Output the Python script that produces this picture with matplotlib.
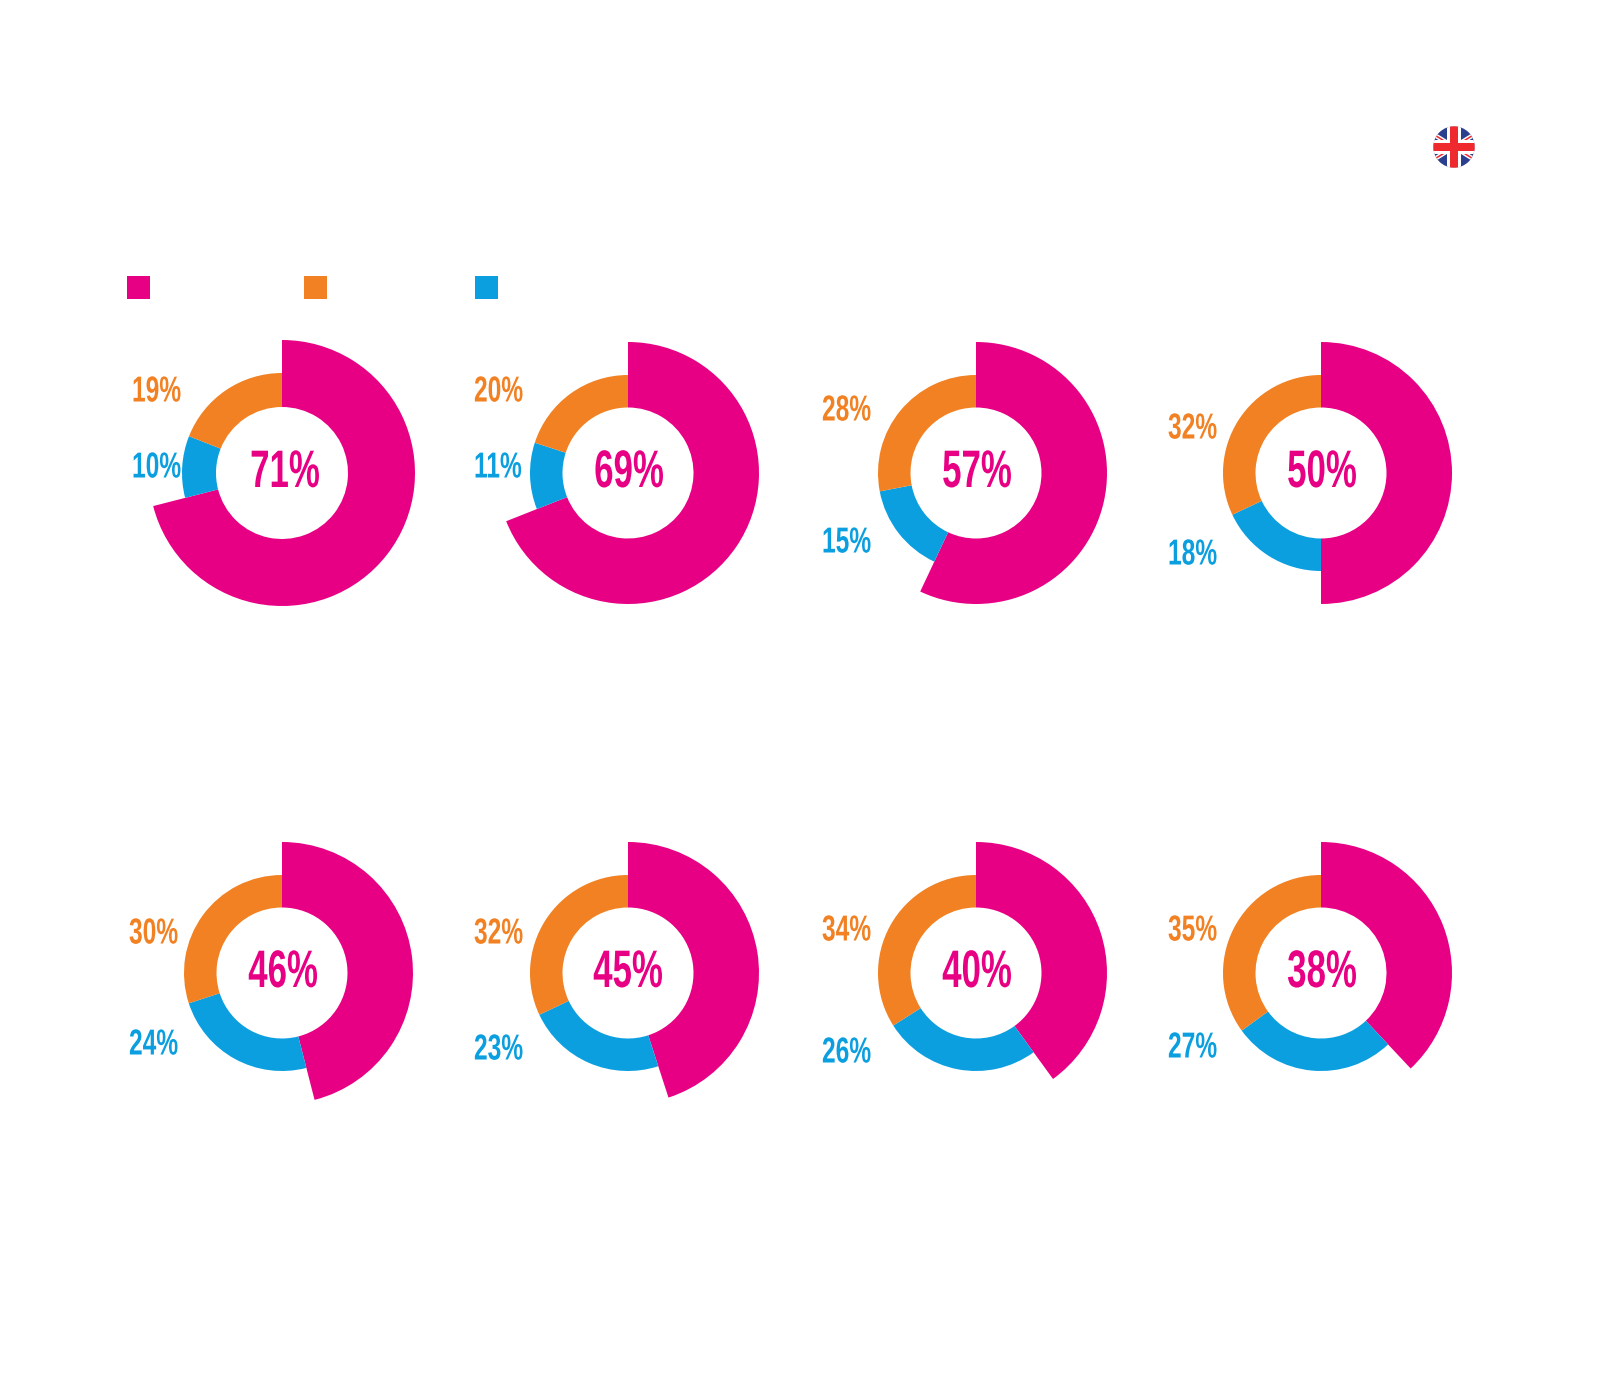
import matplotlib
matplotlib.use('Agg')
import matplotlib.pyplot as plt
from matplotlib.patches import Circle, Rectangle
from matplotlib.patheffects import AbstractPathEffect
from matplotlib.transforms import Affine2D

PINK = '#E80084'
ORANGE = '#F18122'
BLUE = '#0B9FE0'
FLAG_RED = '#EE2A2E'
FLAG_BLUE = '#2B3F8F'

# values per donut, left to right, top row first
main_pct = [71, 69, 57, 50, 46, 45, 40, 38]
orange_pct = [19, 20, 28, 32, 30, 32, 34, 35]
blue_pct = [10, 11, 15, 18, 24, 23, 26, 27]

# layout in reference pixels
W, H = 1600, 1387
centers = [(282, 473), (628, 473), (976, 473), (1321, 473),
           (282, 973), (628, 973), (976, 973), (1321, 973)]
outer_r = [133, 131, 131, 131, 131, 131, 131, 131]
mid_r = [100, 98, 98, 98, 98, 98, 98, 98]
hole_r = [66, 65.5, 65.5, 65.5, 65.5, 65.5, 65.5, 65.5]
orange_xy = [(132, 392), (474, 392), (822, 411), (1168, 429),
             (129, 934), (474, 934), (822, 931), (1168, 931)]
blue_xy = [(132, 468), (474, 468), (822, 543), (1168, 555),
           (129, 1045), (474, 1050), (822, 1053), (1168, 1048)]
main_xy = [(285, 473), (629, 473), (977, 473), (1322, 473),
           (283, 973), (628, 973), (977, 973), (1322, 973)]
legend_x = [127, 304, 475]
legend_colors = [PINK, ORANGE, BLUE]


class Squeeze(AbstractPathEffect):
    # no condensed font here, so narrow the glyphs around the text anchor
    def __init__(self, sx, x0):
        super().__init__()
        self.sx = sx
        self.x0 = x0

    def draw_path(self, renderer, gc, tpath, affine, rgbFace=None):
        squeeze = Affine2D().translate(-self.x0, 0).scale(self.sx, 1).translate(self.x0, 0)
        renderer.draw_path(gc, tpath, affine + squeeze, rgbFace)


def label(ax, xy, s, color, size, sx, ha):
    t = ax.text(xy[0], xy[1], s, color=color, family='Liberation Sans', fontweight='bold',
                fontsize=size, ha=ha, va='center', zorder=5)
    t.set_path_effects([Squeeze(sx, xy[0])])


fig = plt.figure(figsize=(W / 100, H / 100), dpi=100)
bg = fig.add_axes([0, 0, 1, 1])
bg.set_xlim(0, W)
bg.set_ylim(H, 0)
bg.axis('off')

for x, c in zip(legend_x, legend_colors):
    bg.add_patch(Rectangle((x, 276), 23, 23, fc=c, lw=0))

# flag
fx, fy, fr = 1454, 147, 20.7
clip = Circle((fx, fy), fr, transform=bg.transData)
bg.add_patch(Circle((fx, fy), fr, fc=FLAG_BLUE, lw=0))
for sign in (-1, 1):
    xs = [fx - fr, fx + fr]
    ys = [fy - sign * fr * 0.62, fy + sign * fr * 0.62]
    for col, lw in (('white', 3.2), (FLAG_RED, 1.1)):
        line, = bg.plot(xs, ys, color=col, lw=lw, solid_capstyle='butt')
        line.set_clip_path(clip)
for half, col in ((6.8, 'white'), (4.4, FLAG_RED)):
    for rect in (Rectangle((fx - half, fy - fr), 2 * half, 2 * fr, fc=col, lw=0, zorder=3),
                 Rectangle((fx - fr, fy - half), 2 * fr, 2 * half, fc=col, lw=0, zorder=3)):
        bg.add_patch(rect)
        rect.set_clip_path(clip)

for i in range(len(main_pct)):
    cx, cy = centers[i]
    R = outer_r[i]
    side = 2.2 * R
    ax = fig.add_axes([(cx - side / 2) / W, 1 - (cy + side / 2) / H, side / W, side / H])
    vals = [main_pct[i], blue_pct[i], orange_pct[i]]
    # pink at full radius, blue and orange on a thinner ring
    ax.pie(vals, colors=[PINK, 'none', 'none'], startangle=90, counterclock=False, radius=1,
           wedgeprops={'width': (R - hole_r[i]) / R, 'linewidth': 0})
    ax.pie(vals, colors=['none', BLUE, ORANGE], startangle=90, counterclock=False, radius=mid_r[i] / R,
           wedgeprops={'width': (mid_r[i] - hole_r[i]) / R, 'linewidth': 0})
    ax.set_xlim(-1.1, 1.1)
    ax.set_ylim(-1.1, 1.1)
    ax.axis('off')

    label(bg, orange_xy[i], f'{orange_pct[i]}%', ORANGE, 26, 0.68, 'left')
    label(bg, blue_xy[i], f'{blue_pct[i]}%', BLUE, 26, 0.68, 'left')
    label(bg, main_xy[i], f'{main_pct[i]}%', PINK, 38, 0.66, 'center')

fig.savefig('out.png', dpi=100)
